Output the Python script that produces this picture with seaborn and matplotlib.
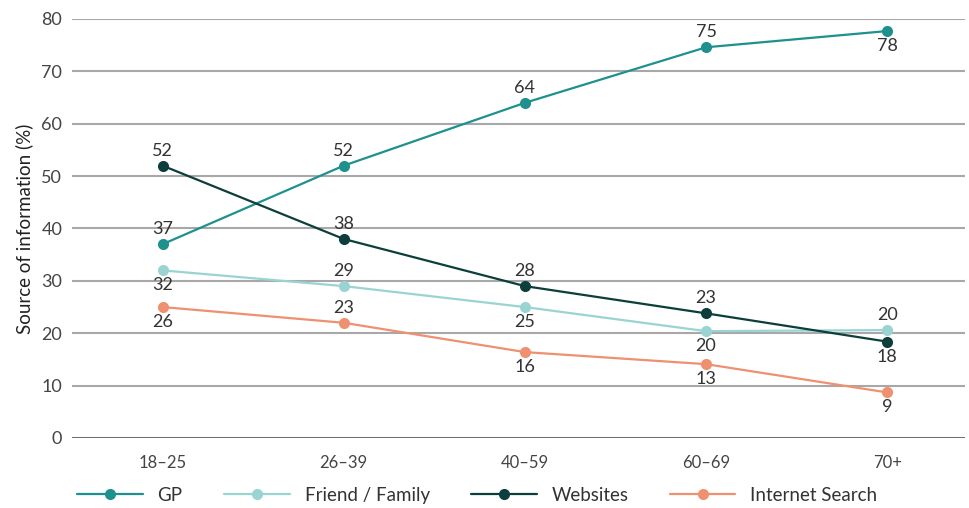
import matplotlib
matplotlib.use("Agg")
import matplotlib.pyplot as plt
import seaborn as sns
import pandas as pd

categories = ["18–25", "26–39", "40–59", "60–69", "70+"]
series_names = ["GP", "Friend / Family", "Websites", "Internet Search"]

gp = [37, 52, 64, 74.6, 77.7]
friend = [32, 29, 25, 20.4, 20.6]
websites = [52, 38, 29, 23.8, 18.4]
internet = [25, 22, 16.4, 14.1, 8.7]

gp_labels = ["37", "52", "64", "75", "78"]
friend_labels = ["32", "29", "25", "20", "20"]
websites_labels = ["52", "38", "28", "23", "18"]
internet_labels = ["26", "23", "16", "13", "9"]

# label placement: +1 above, -1 below
gp_pos = [1, 1, 1, 1, -1]
friend_pos = [-1, 1, -1, -1, 1]
websites_pos = [1, 1, 1, 1, -1]
internet_pos = [-1, 1, -1, -1, -1]

colors = ["#1e918f", "#99d4d3", "#0c3f3c", "#ef9070"]

values = [gp, friend, websites, internet]
labels = [gp_labels, friend_labels, websites_labels, internet_labels]
positions = [gp_pos, friend_pos, websites_pos, internet_pos]

rows = []
for name, vals in zip(series_names, values):
    for c, v in zip(categories, vals):
        rows.append({"Age": c, "Value": v, "Series": name})
df = pd.DataFrame(rows)

sns.set_theme(style="white")
plt.rcParams["font.family"] = ["Lato", "DejaVu Sans"]

fig = plt.figure(figsize=(9.69, 5.08), dpi=100)
ax = fig.add_axes([0.0743, 0.1378, 0.9217, 0.8248])

for y in range(10, 90, 10):
    ax.axhline(y, color="#a8a8a8", lw=1.5, zorder=0)
ax.axhline(0, color="#6f6f6f", lw=2.2, zorder=0)

sns.lineplot(data=df, x="Age", y="Value", hue="Series", hue_order=series_names,
             palette=colors, marker="o", markersize=8, markeredgewidth=0,
             linewidth=1.6, ax=ax, legend=True, sort=False)

for vals, labs, pos in zip(values, labels, positions):
    for i, (v, t, p) in enumerate(zip(vals, labs, pos)):
        ax.annotate(t, (i, v), xytext=(0, 5 * p), textcoords="offset points",
                    ha="center", va="bottom" if p > 0 else "top",
                    fontsize=13, color="#333333")

ax.set_ylim(0, 80)
ax.set_xlim(-0.5, 4.43)
ax.set_yticks(range(0, 90, 10))
ax.set_xlabel("")
ax.set_ylabel("Source of information (%)", fontsize=13.5, color="#222222", labelpad=6)
ax.tick_params(axis="both", length=0, colors="#444444")
ax.tick_params(axis="y", pad=7, labelsize=13)
ax.tick_params(axis="x", pad=12, labelsize=12)
for s in ax.spines.values():
    s.set_visible(False)

handles, lbls = ax.get_legend_handles_labels()
ax.get_legend().remove()
fig.legend(handles, lbls, loc="lower left", bbox_to_anchor=(0.062, -0.025), ncol=4,
           frameon=False, fontsize=13.5, handlelength=3.5, handletextpad=0.8,
           columnspacing=2.2, labelcolor="#333333")

fig.savefig("out.png", dpi=100)
